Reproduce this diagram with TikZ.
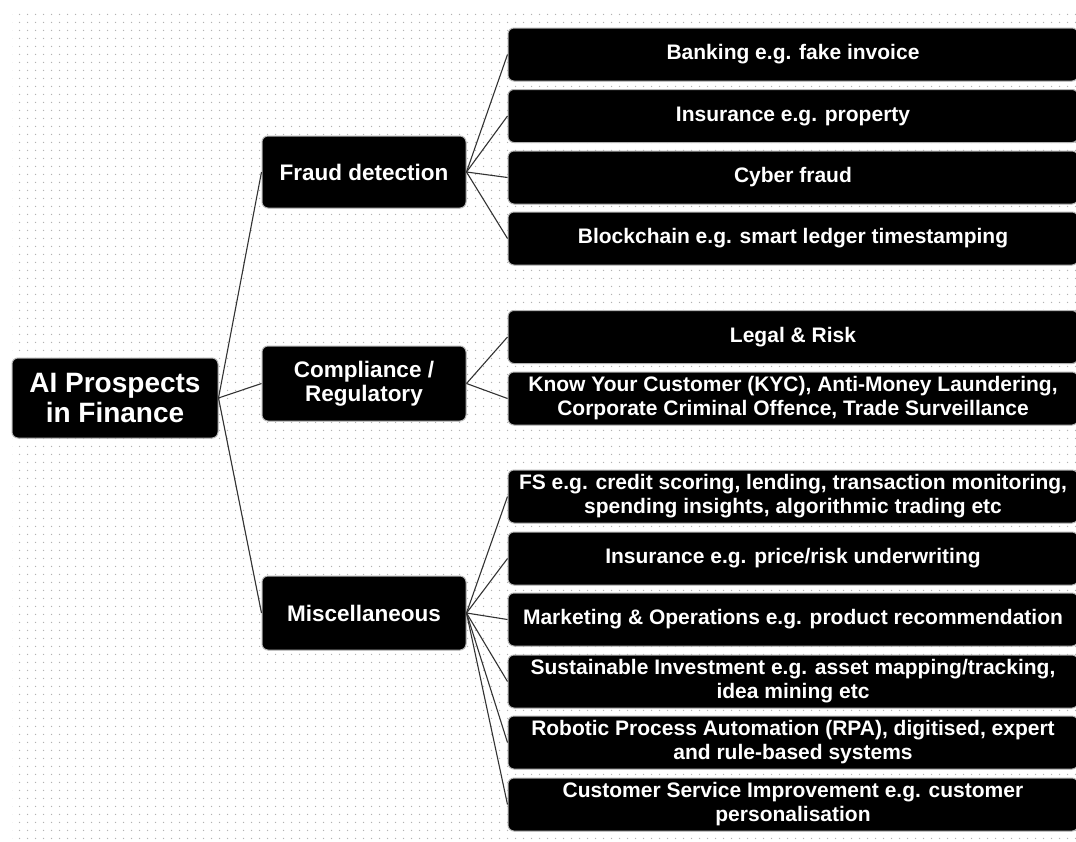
\documentclass[tikz,border=0pt]{standalone}
\usepackage{fontspec}
\setmainfont{Liberation Sans}
\usetikzlibrary{patterns.meta}

\tikzdeclarepattern{
  name=sparsedots,
  type=uncolored,
  bounding box={(0pt,0pt) and (8pt,8pt)},
  tile size={(8pt,8pt)},
  code={\fill (4pt,4pt) circle (0.8pt);}
}

\begin{document}
\begin{tikzpicture}[x=1pt,y=-1pt,
    box/.style={fill=black,draw=gray!60,line width=1pt,rounded corners=6pt,
      text=white,align=center,inner sep=0pt,
      font=\bfseries\fontsize{21}{24}\selectfont},
    leafbox/.style={box,minimum width=570pt,minimum height=53pt},
    topicbox/.style={box,minimum width=204pt,minimum height=72pt,
      font=\bfseries\fontsize{22.5}{24}\selectfont},
    link/.style={draw=black!80,line width=1.1pt}]
    \useasboundingbox (0,0) rectangle (1076,841);
    \fill[white] (0,0) rectangle (1076,841);
    \fill[pattern=sparsedots,pattern color=gray!60] (12,10) rectangle (1076,841);

    % root and topics
    \node[box,minimum width=206pt,minimum height=80pt,
      font=\bfseries\fontsize{28}{30}\selectfont] (root) at (115,398) {AI Prospects\\in Finance};
    \node[topicbox] (fraud) at (364,172) {Fraud detection};
    \node[topicbox,minimum height=75pt] (comp) at (364,383.5) {Compliance /\\Regulatory};
    \node[topicbox,minimum height=74pt] (misc) at (364,613) {Miscellaneous};

    % fraud detection
    \node[leafbox] (bank) at (793,54.5) {Banking e.g. fake invoice};
    \node[leafbox] (insp) at (793,116) {Insurance e.g. property};
    \node[leafbox] (cyber) at (793,177.5) {Cyber fraud};
    \node[leafbox] (chain) at (793,238.5) {Blockchain e.g. smart ledger timestamping};

    % compliance
    \node[leafbox] (legal) at (793,337) {Legal \& Risk};
    \node[leafbox] (kyc) at (793,398.5) {Know Your Customer (KYC), Anti-Money Laundering,\\Corporate Criminal Offence, Trade Surveillance};

    % miscellaneous
    \node[leafbox] (fs) at (793,496.5) {FS e.g. credit scoring, lending, transaction monitoring,\\spending insights, algorithmic trading etc};
    \node[leafbox] (insr) at (793,558.5) {Insurance e.g. price/risk underwriting};
    \node[leafbox] (mkt) at (793,619.5) {Marketing \& Operations e.g. product recommendation};
    \node[leafbox] (sust) at (793,681.5) {Sustainable Investment e.g. asset mapping/tracking,\\idea mining etc};
    \node[leafbox] (rpa) at (793,742.5) {Robotic Process Automation (RPA), digitised, expert\\and rule-based systems};
    \node[leafbox] (cust) at (793,804.5) {Customer Service Improvement e.g. customer\\personalisation};

    \foreach \a/\b in {root/fraud,root/comp,root/misc,
      fraud/bank,fraud/insp,fraud/cyber,fraud/chain,
      comp/legal,comp/kyc,
      misc/fs,misc/insr,misc/mkt,misc/sust,misc/rpa,misc/cust}
    {
      \draw[link] (\a.east) -- (\b.west);
    }
\end{tikzpicture}
\end{document}
